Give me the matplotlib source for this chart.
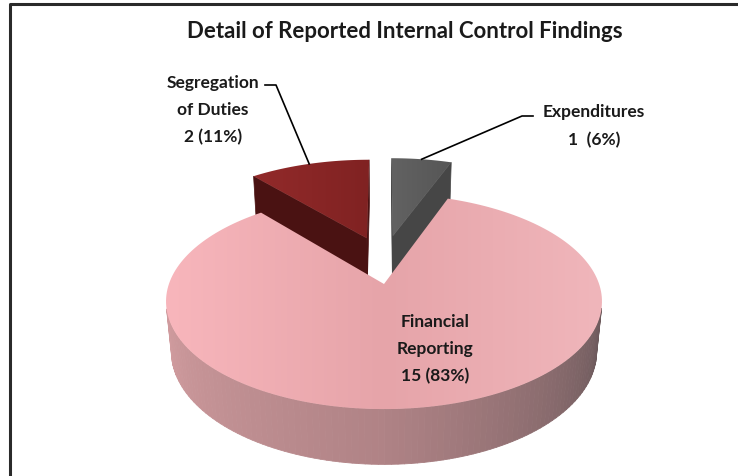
import numpy as np
import matplotlib
matplotlib.use('Agg')
from matplotlib import pyplot as plt
from matplotlib.patches import Polygon
from matplotlib.collections import PolyCollection

TITLE = 'Detail of Reported Internal Control Findings'
CATEGORIES = ['Expenditures', 'Financial\nReporting', 'Segregation\nof Duties']
COUNTS = [1, 15, 2]
EXPLODE = [0.5, 0.0, 0.5]

TOP_COLORS = [
    [(98, 98, 98), (86, 86, 86)],
    [(248, 182, 188), (230, 164, 169), (240, 182, 187)],
    [(146, 42, 42), (128, 34, 34)],
]
CUT_COLORS = [(70, 70, 70), (150, 110, 112), (74, 18, 18)]
SIDE_COLORS = [(214, 160, 163), (176, 131, 134), (96, 82, 84)]

# projection of the 3d pie
CX, CY = 384, 285
DIST = 5.37
PHI = np.arcsin(0.487)
FOC = 1155
DEPTH = 0.27
CAM = np.array([0.0, -DIST * np.cos(PHI), DIST * np.sin(PHI)])


def project(X, Y, Z):
    d = DIST + Y * np.cos(PHI) - Z * np.sin(PHI)
    sx = CX + FOC * X / d
    sy = CY - FOC * (Y * np.sin(PHI) + Z * np.cos(PHI)) / d
    return sx, sy


def to_rgb(c):
    return tuple(v / 255 for v in c)


def grad_fill(ax, xs, ys, stops, zorder):
    poly = Polygon(np.column_stack([xs, ys]), closed=True,
                   facecolor='none', edgecolor='none')
    ax.add_patch(poly)
    n = 256
    pos = np.linspace(0, 1, len(stops))
    arr = np.zeros((2, n, 3))
    for k in range(3):
        arr[:, :, k] = np.interp(np.linspace(0, 1, n), pos,
                                 [s[k] / 255 for s in stops])
    im = ax.imshow(arr, extent=(min(xs), max(xs), max(ys), min(ys)),
                   aspect='auto', zorder=zorder, interpolation='bilinear')
    im.set_clip_path(poly)


def draw_slice(ax, i, t_hi, t_lo, zorder):
    mid = (t_hi + t_lo) / 2
    ox = EXPLODE[i] * 0.5 * np.cos(mid)
    oy = EXPLODE[i] * np.sin(mid)
    ts = np.linspace(t_hi, t_lo, 200)
    rx, ry = ox + np.cos(ts), oy + np.sin(ts)

    # outer side
    vis = (-(np.cos(ts) * (rx - CAM[0])) - np.sin(ts) * (ry - CAM[1])) > 0
    quads, cols = [], []
    for j in range(len(ts) - 1):
        if not (vis[j] and vis[j + 1]):
            continue
        x1, y1 = project(rx[j], ry[j], 0)
        x2, y2 = project(rx[j + 1], ry[j + 1], 0)
        x3, y3 = project(rx[j + 1], ry[j + 1], -DEPTH)
        x4, y4 = project(rx[j], ry[j], -DEPTH)
        quads.append([(x1, y1), (x2, y2), (x3, y3), (x4, y4)])
        a = (np.degrees(ts[j]) % 360 - 180) / 180
        a = min(max(a, 0), 1)
        c = [np.interp(a, [0, 0.5, 1], [s[k] for s in SIDE_COLORS]) / 255
             for k in range(3)]
        cols.append(c)
    if quads:
        ax.add_collection(PolyCollection(quads, facecolors=cols,
                                         edgecolors=cols, linewidths=0.6,
                                         zorder=zorder))

    # cut faces
    for t, sgn in [(t_hi, 1), (t_lo, -1)]:
        n = np.array([-np.sin(t), np.cos(t), 0]) * sgn
        if np.dot(n, CAM - np.array([ox, oy, 0])) <= 0:
            continue
        pts = [project(ox, oy, 0), project(ox + np.cos(t), oy + np.sin(t), 0),
               project(ox + np.cos(t), oy + np.sin(t), -DEPTH),
               project(ox, oy, -DEPTH)]
        ax.add_patch(Polygon(pts, closed=True, facecolor=to_rgb(CUT_COLORS[i]),
                             edgecolor=to_rgb(CUT_COLORS[i]), lw=0.5,
                             zorder=zorder + 0.1))

    # top face
    px, py = project(np.r_[ox, rx], np.r_[oy, ry], 0)
    grad_fill(ax, px, py, TOP_COLORS[i], zorder + 0.2)
    return project(ox + np.cos(mid), oy + np.sin(mid), 0)


def main():
    fig = plt.figure(figsize=(7.38, 4.77), dpi=100)
    ax = fig.add_axes([0, 0, 1, 1])
    ax.axis('off')

    total = sum(COUNTS)
    fracs = np.cumsum([0] + COUNTS) / total
    angles = np.pi / 2 - 2 * np.pi * fracs

    order = [2, 0, 1]
    anchors = {}
    for z, i in enumerate(order):
        anchors[i] = draw_slice(ax, i, angles[i], angles[i + 1], 2 + z)

    font = 'Lato'
    txt = dict(ha='center', va='center', fontweight='bold', family=font,
               color='#1a1a1a', zorder=10)
    ax.text(405, 31, TITLE, fontsize=16, **txt)

    labels = ['{}\n{}  ({:.0f}%)'.format(CATEGORIES[0], COUNTS[0],
                                         100 * COUNTS[0] / total),
              '{}\n{} ({:.0f}%)'.format(CATEGORIES[1], COUNTS[1],
                                        100 * COUNTS[1] / total),
              '{}\n{} ({:.0f}%)'.format(CATEGORIES[2], COUNTS[2],
                                        100 * COUNTS[2] / total)]
    ax.text(594, 126, labels[0], fontsize=12.5, linespacing=1.85, **txt)
    ax.text(435, 349, labels[1], fontsize=12.5, linespacing=1.85, **txt)
    ax.text(213, 110, labels[2], fontsize=12.5, linespacing=1.85, **txt)

    # leader lines
    ex, ey = anchors[0]
    ax.plot([533, 522, ex], [117, 117, ey], color='black', lw=1.2,
            zorder=11)
    sx, sy = anchors[2]
    ax.plot([265, 276, sx], [86, 86, sy], color='black', lw=1.2,
            zorder=11)

    # frame
    ax.plot([9.5, 9.5, 738], [477, 4.5, 4.5], color='#2a2a2a', lw=2.2,
            zorder=12, solid_capstyle='butt')

    ax.set_xlim(0, 738)
    ax.set_ylim(477, 0)
    fig.savefig('out.png', dpi=100, facecolor='white')


if __name__ == '__main__':

    main()
